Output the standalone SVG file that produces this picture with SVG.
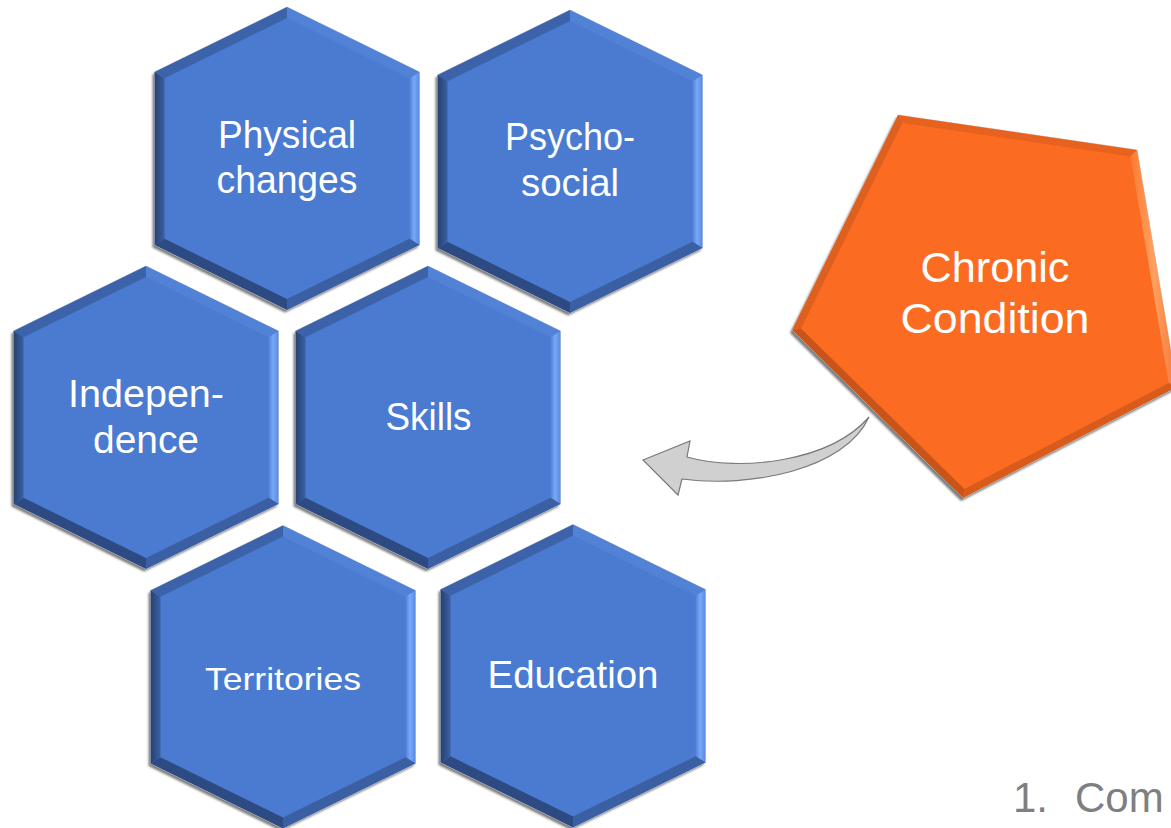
<svg xmlns="http://www.w3.org/2000/svg" xmlns:xlink="http://www.w3.org/1999/xlink" width="1171" height="828" viewBox="0 0 1171 828">
  <style>
    .lbl { font-family: "Liberation Sans", Arial, sans-serif; fill: #ffffff; text-anchor: middle; }
    .hexT { font-size: 38px; }
    .pentT { font-size: 42px; }
    .note { font-family: "Liberation Sans", Arial, sans-serif; font-size: 42px; fill: #7f7f7f; }
  </style>
  <defs>
    <filter id="soft" x="-10%" y="-10%" width="120%" height="120%">
      <feGaussianBlur stdDeviation="1"/>
    </filter>
    <linearGradient id="gRight" x1="0" y1="0" x2="1" y2="0">
      <stop offset="0" stop-color="#4f80d6"/>
      <stop offset="0.45" stop-color="#78a8f8"/>
      <stop offset="1" stop-color="#5a8ae0"/>
    </linearGradient>
    <linearGradient id="gLeft" x1="0" y1="0" x2="1" y2="0">
      <stop offset="0" stop-color="#26416f"/>
      <stop offset="1" stop-color="#3a60a4"/>
    </linearGradient>
    <linearGradient id="pRight" x1="0" y1="0" x2="1" y2="0">
      <stop offset="0" stop-color="#fb7a33"/>
      <stop offset="0.5" stop-color="#ffa060"/>
      <stop offset="1" stop-color="#f27a3a"/>
    </linearGradient>
    <g id="hex">
      <polygon points="-2,-149 130.5,-84 130.5,89 -2,154 -134.5,89 -134.5,-84" fill="#5c5c5c" filter="url(#soft)" opacity="0.8"/>
      <polygon points="0,-151.5 132.5,-86.5 132.5,86.5 0,151.5 -132.5,86.5 -132.5,-86.5" fill="#4a7bd1" stroke="#d6d6d6" stroke-width="1"/>
      <polygon points="0,-151.5 132.5,-86.5 122.5,-80.3 0,-140.4" fill="#5282d6"/>
      <polygon points="132.5,-86.5 132.5,86.5 122.5,80.3 122.5,-80.3" fill="url(#gRight)"/>
      <polygon points="132.5,86.5 0,151.5 0,140.4 122.5,80.3" fill="#3a5fa3"/>
      <polygon points="0,151.5 -132.5,86.5 -122.5,80.3 0,140.4" fill="#2d4a83"/>
      <polygon points="-132.5,86.5 -132.5,-86.5 -122.5,-80.3 -122.5,80.3" fill="url(#gLeft)"/>
      <polygon points="-132.5,-86.5 0,-151.5 0,-140.4 -122.5,-80.3" fill="#3c63aa"/>
    </g>
  </defs>

  <rect width="1171" height="828" fill="#ffffff"/>

  <g id="node-physical">
    <use xlink:href="#hex" href="#hex" x="287" y="158.5"/>
    <text class="lbl hexT" x="287" y="148" textLength="138" lengthAdjust="spacingAndGlyphs">Physical</text>
    <text class="lbl hexT" x="287" y="193" textLength="141" lengthAdjust="spacingAndGlyphs">changes</text>
  </g>

  <g id="node-psychosocial">
    <use xlink:href="#hex" href="#hex" x="570" y="161.5"/>
    <text class="lbl hexT" x="570" y="150" textLength="130" lengthAdjust="spacingAndGlyphs">Psycho-</text>
    <text class="lbl hexT" x="570" y="196" textLength="98" lengthAdjust="spacingAndGlyphs">social</text>
  </g>

  <g id="node-independence">
    <use xlink:href="#hex" href="#hex" x="146" y="417.5"/>
    <text class="lbl hexT" x="146" y="407" textLength="156" lengthAdjust="spacingAndGlyphs">Indepen-</text>
    <text class="lbl hexT" x="146" y="453" textLength="106" lengthAdjust="spacingAndGlyphs">dence</text>
  </g>

  <g id="node-skills">
    <use xlink:href="#hex" href="#hex" x="428" y="417.5"/>
    <text class="lbl hexT" x="428.5" y="430" textLength="86" lengthAdjust="spacingAndGlyphs">Skills</text>
  </g>

  <g id="node-territories">
    <use xlink:href="#hex" href="#hex" x="283" y="677"/>
    <text class="lbl" style="font-size:32px" x="283" y="690" textLength="156" lengthAdjust="spacingAndGlyphs">Territories</text>
  </g>

  <g id="node-education">
    <use xlink:href="#hex" href="#hex" x="573" y="676"/>
    <text class="lbl hexT" x="573" y="688" textLength="171" lengthAdjust="spacingAndGlyphs">Education</text>
  </g>

  <g id="node-chronic">
    <polygon points="896,118 1135,153 1175,390 961,501 790,333" fill="#5c5c5c" filter="url(#soft)" opacity="0.8"/>
    <polygon points="898,115 1137,150 1177,387 963,498 792,330" fill="#fb6c22" stroke="#d0d0d0" stroke-width="1"/>
    <polygon points="898,115 1137,150 1130.5,156.6 902.3,123.1" fill="#e8621f"/>
    <polygon points="1137,150 1177,387 1168.7,382.9 1130.5,156.6" fill="url(#pRight)"/>
    <polygon points="1177,387 963,498 964.4,488.9 1168.7,382.9" fill="#d85b1b"/>
    <polygon points="963,498 792,330 801.1,328.5 964.4,488.9" fill="#c9541a"/>
    <polygon points="792,330 898,115 902.3,123.1 801.1,328.5" fill="#de5f1e"/>
    <text class="lbl pentT" x="995" y="282" textLength="149" lengthAdjust="spacingAndGlyphs">Chronic</text>
    <text class="lbl pentT" x="995" y="333" textLength="189" lengthAdjust="spacingAndGlyphs">Condition</text>
  </g>

  <g id="connectors">
    <path d="M643,460 L690,441 L687,457 C740,472 830,462 869,417 C845,470 750,488 682,479 L678,495 Z" fill="#d0d0d0" stroke="#7a7a7a" stroke-width="1.2" stroke-linejoin="miter"/>
  </g>

  <text class="note" y="812"><tspan x="1013">1.</tspan><tspan x="1075">Com</tspan></text>
</svg>
